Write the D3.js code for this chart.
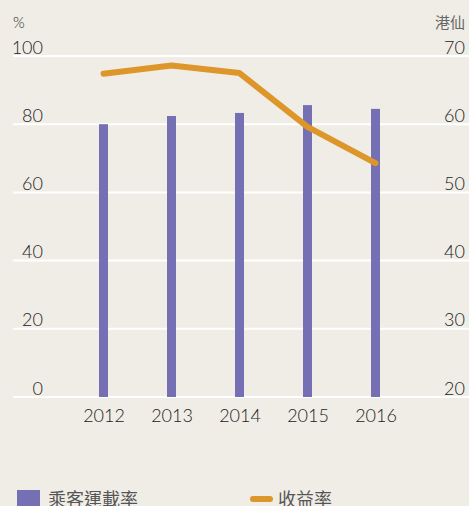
<!DOCTYPE html>
<html>
<head>
<meta charset="utf-8">
<script src="https://cdn.jsdelivr.net/npm/d3@7"></script>
<style>
  html, body { margin: 0; padding: 0; background: #f0ede7; }
  svg { display: block; }
  text { font-family: Lato, "Noto Sans CJK TC", sans-serif; fill: #222222; }
</style>
</head>
<body>
<div id="chart"></div>
<script>
// data
var years = ["2012", "2013", "2014", "2015", "2016"];
var loadFactor = [80.0, 82.4, 83.3, 85.6, 84.5];   // 乘客運載率, % (left)
var yieldCents = [67.4, 68.6, 67.5, 59.6, 54.3];   // 收益率, 港仙 (right)
var leftTicks = [0, 20, 40, 60, 80, 100];
var rightTicks = [20, 30, 40, 50, 60, 70];

var width = 469;
var height = 506;
var plotTop = 56, plotBottom = 397;

var svg = d3.select("#chart").
append("svg").
attr("width", width).
attr("height", height);

svg.append("rect").attr("width", width).attr("height", height).attr("fill", "#f0ede7");

var x = d3.scalePoint().
domain(years).
range([103.5, 375.5]);

var yL = d3.scaleLinear().domain([0, 100]).range([plotBottom, plotTop]);
var yR = d3.scaleLinear().domain([20, 70]).range([plotBottom, plotTop]);

// gridlines
svg.append("g").
selectAll("line").
data(leftTicks).
enter().
append("line").
attr("x1", 13).
attr("x2", width).
attr("y1", function (d) {return yL(d);}).
attr("y2", function (d) {return yL(d);}).
attr("stroke", "#ffffff").
attr("stroke-width", 2);

// left axis
var gL = svg.append("g").
attr("transform", "translate(43,0)").
call(d3.axisLeft(yL).tickValues(leftTicks).tickSize(0).tickPadding(0));
gL.select(".domain").remove();
gL.selectAll("text").attr("dy", -3).style("font-size", "18px").style("font-weight", 300);

// right axis (labels right-aligned at the edge)
var gR = svg.append("g").
attr("transform", "translate(465,0)").
call(d3.axisLeft(yR).tickValues(rightTicks).tickSize(0).tickPadding(0));
gR.select(".domain").remove();
gR.selectAll("text").attr("dy", -3).style("font-size", "18px").style("font-weight", 300);

// x axis
var gX = svg.append("g").
attr("transform", "translate(0," + plotBottom + ")").
call(d3.axisBottom(x).tickSize(0));
gX.select(".domain").remove();
gX.selectAll("text").attr("y", 0).attr("dy", 25).style("font-size", "18px").style("font-weight", 300);
svg.selectAll("g").attr("font-family", null).attr("font-size", null);

// unit labels
svg.append("text").attr("x", 13).attr("y", 28).style("font-size", "15px").style("font-weight", 300).text("%");
svg.append("text").attr("x", 465).attr("y", 28).attr("text-anchor", "end").style("font-size", "15px").style("fill", "#666").text("港仙");

// bars
svg.selectAll("rect.bar").
data(loadFactor).
enter().
append("rect").
attr("class", "bar").
attr("x", function (d, i) {return x(years[i]) - 4.5;}).
attr("y", function (d) {return yL(d);}).
attr("width", 9).
attr("height", function (d) {return plotBottom - yL(d);}).
attr("fill", "#7570b3");

// yield line
var line = d3.line().
x(function (d, i) {return x(years[i]);}).
y(function (d) {return yR(d);});

svg.append("path").
datum(yieldCents).
attr("d", line).
attr("fill", "none").
attr("stroke", "#dd962a").
attr("stroke-width", 6).
attr("stroke-linecap", "round").
attr("stroke-linejoin", "round");

// legend
svg.append("rect").attr("x", 17).attr("y", 490).attr("width", 23).attr("height", 23).attr("fill", "#7570b3");
svg.append("text").attr("x", 48).attr("y", 506).style("font-size", "18px").style("fill", "#555").text("乘客運載率");
svg.append("line").attr("x1", 253).attr("x2", 270).attr("y1", 499).attr("y2", 499).
attr("stroke", "#dd962a").attr("stroke-width", 6).attr("stroke-linecap", "round");
svg.append("text").attr("x", 278).attr("y", 506).style("font-size", "18px").style("fill", "#555").text("收益率");
</script>
</body>
</html>
